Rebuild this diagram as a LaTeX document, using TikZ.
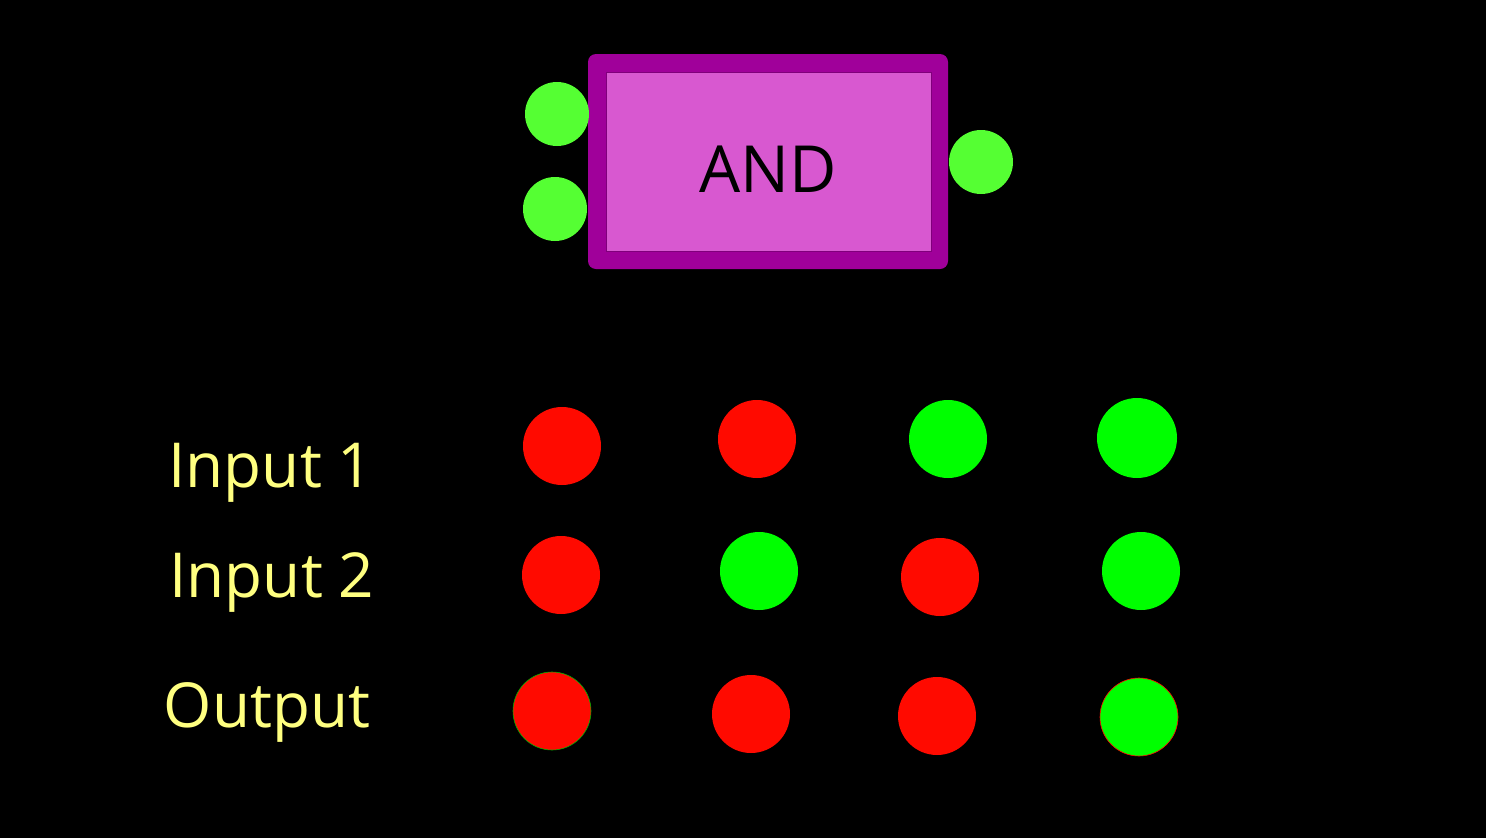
\documentclass[tikz,border=0pt]{standalone}
\usepackage{fontspec}
\setmainfont{Open Sans}
\definecolor{bg}{HTML}{000000}
\definecolor{gateouter}{HTML}{A0009A}
\definecolor{gateinner}{HTML}{D858D0}
\definecolor{pin}{HTML}{55FF33}
\definecolor{onc}{HTML}{00FF00}
\definecolor{offc}{HTML}{FF0A00}
\definecolor{lbl}{HTML}{FFFF80}
\begin{document}
\begin{tikzpicture}[x=1pt,y=-1pt,
  pinnode/.style={circle,fill=pin,minimum size=64pt,inner sep=0pt},
  onnode/.style={circle,fill=onc,minimum size=78pt,inner sep=0pt},
  offnode/.style={circle,fill=offc,minimum size=78pt,inner sep=0pt},
  lblnode/.style={text=lbl,font=\fontsize{62}{68}\selectfont,inner sep=0pt,anchor=base}]
\fill[bg] (0,0) rectangle (1486,838);
\useasboundingbox (0,0) rectangle (1486,838);
% gate
\fill[gateouter,rounded corners=8pt] (588,54) rectangle (948,269);
\filldraw[fill=gateinner,draw=gateouter!80!black,line width=0.8pt] (606,72) rectangle (931,251);
\node[font=\fontsize{65}{70}\selectfont,text=black,inner sep=0pt] (gate) at (768,169) {AND};
\node[pinnode] (in1) at (557,114) {};
\node[pinnode] (in2) at (555,209) {};
\node[pinnode] (out) at (981,162) {};
% labels
\node[lblnode] (l1) at (271,487) {Input 1};
\node[lblnode] (l2) at (272,597) {Input 2};
\node[lblnode] (l3) at (267,727) {Output};
% truth table
\node[offnode] (a1) at (562,446) {};
\node[offnode] (a2) at (757,439) {};
\node[onnode]  (a3) at (948,439) {};
\node[onnode,minimum size=80pt] (a4) at (1137,438) {};
\node[offnode] (b1) at (561,575) {};
\node[onnode]  (b2) at (759,571) {};
\node[offnode] (b3) at (940,577) {};
\node[onnode]  (b4) at (1141,571) {};
\node[offnode,draw=onc!70!black,line width=0.6pt] (c1) at (552,711) {};
\node[offnode] (c2) at (751,714) {};
\node[offnode] (c3) at (937,716) {};
\node[onnode,draw=offc,line width=0.6pt] (c4) at (1139,717) {};
\end{tikzpicture}
\end{document}
